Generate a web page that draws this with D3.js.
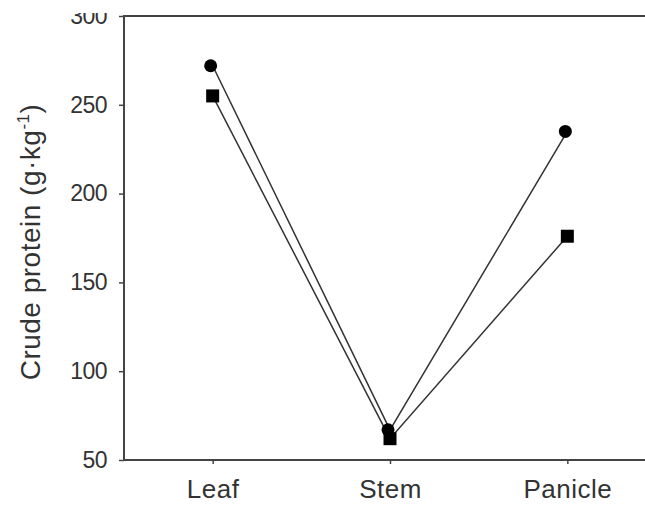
<!DOCTYPE html>
<html>
<head>
<meta charset="utf-8">
<script src="https://cdn.jsdelivr.net/npm/d3@7"></script>
<style>
  body { margin: 0; background: #fff; }
  text { font-family: Arial, "Liberation Sans", sans-serif; fill: #333; }
</style>
</head>
<body>
<div id="chart"></div>
<script>
// plant parts on the x axis
const categories = ['Leaf', 'Stem', 'Panicle']
// crude protein, g/kg
const circleValues = [272, 67, 235]
const squareValues = [255, 62, 176]
const yTicks = [50, 100, 150, 200, 250, 300]

const width = 645, height = 505
const plot = {left: 124, right: 656, top: 16, bottom: 460}

const svg = d3.select('#chart').append('svg')
  .attr('width', width)
  .attr('height', height)

const xScale = d3.scalePoint()
  .domain(categories)
  .range([plot.left, plot.right])
  .padding(0.5)
const yScale = d3.scaleLinear()
  .domain([50, 300])
  .range([plot.bottom, plot.top])

// top label is cut off by the picture edge (local coords of the y axis group)
svg.append('clipPath').attr('id', 'ylab-clip')
  .append('rect')
  .attr('x', -plot.left).attr('y', 13)
  .attr('width', width).attr('height', height)

// frame
svg.append('rect')
  .attr('x', plot.left)
  .attr('y', plot.top)
  .attr('width', plot.right - plot.left)
  .attr('height', plot.bottom - plot.top)
  .attr('fill', 'none')
  .attr('stroke', '#444')
  .attr('stroke-width', 2)

// y axis
const yAxis = svg.append('g')
  .attr('transform', `translate(${plot.left},0)`)
  .attr('clip-path', 'url(#ylab-clip)')
  .call(d3.axisLeft(yScale).tickValues(yTicks).tickSizeInner(5).tickSizeOuter(0).tickPadding(12))
yAxis.select('.domain').remove()
yAxis.selectAll('line').attr('stroke', '#444').attr('stroke-width', 1.5)
yAxis.selectAll('text')
  .style('font-size', '23px')
  .style('letter-spacing', '-0.5px')
  .attr('fill', '#333')

// x axis
const xAxis = svg.append('g')
  .attr('transform', `translate(0,${plot.bottom})`)
  .call(d3.axisBottom(xScale).tickSizeInner(4).tickSizeOuter(0).tickPadding(16))
xAxis.select('.domain').remove()
xAxis.selectAll('line').attr('stroke', '#444').attr('stroke-width', 1.5)
xAxis.selectAll('text')
  .style('font-size', '26px')
  .style('letter-spacing', '0.5px')
  .attr('fill', '#333')

// y title
const yTitle = svg.append('text')
  .attr('transform', `translate(40,242) rotate(-90)`)
  .style('text-anchor', 'middle')
  .style('font-size', '28px')
  .style('letter-spacing', '0.5px')
yTitle.append('tspan').text('Crude protein (g·kg')
yTitle.append('tspan')
  .attr('dy', -11)
  .style('font-size', '17px')
  .text('-1')
yTitle.append('tspan')
  .attr('dy', 11)
  .text(')')

const line = d3.line()
  .x((d, i) => xScale(categories[i]))
  .y(d => yScale(d))

const graphG = svg.append('g')
for (const vals of [circleValues, squareValues]) {
  graphG.append('path')
    .datum(vals)
    .attr('d', line)
    .attr('fill', 'none')
    .attr('stroke', '#333')
    .attr('stroke-width', 1.5)
}

// markers
graphG.append('g').selectAll('rect').data(squareValues)
  .enter().append('rect')
  .attr('x', (d, i) => xScale(categories[i]) - 6.5)
  .attr('y', d => yScale(d) - 6.5)
  .attr('width', 13)
  .attr('height', 13)
  .attr('fill', '#000')
graphG.append('g').selectAll('circle').data(circleValues)
  .enter().append('circle')
  .attr('cx', (d, i) => xScale(categories[i]) - 2)
  .attr('cy', d => yScale(d))
  .attr('r', 6.5)
  .attr('fill', '#000')
</script>
</body>
</html>
